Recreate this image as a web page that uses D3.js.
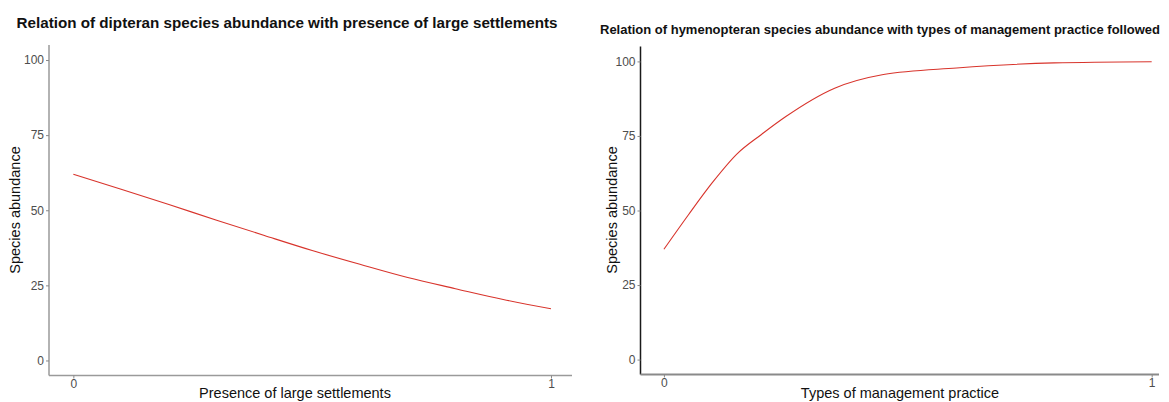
<!DOCTYPE html>
<html><head><meta charset="utf-8">
<script src="https://cdn.jsdelivr.net/npm/d3@7"></script>
<style>body{margin:0;background:#fff}svg{display:block;font-family:"Liberation Sans",Arial,sans-serif}</style>
</head><body><svg id="c" width="1169" height="402"></svg>
<script>
// Data
const leftTitle = "Relation of dipteran species abundance with presence of large settlements";
const rightTitle = "Relation of hymenopteran species abundance with types of management practice followed";
const leftXLabel = "Presence of large settlements";
const rightXLabel = "Types of management practice";
const yLabel = "Species abundance";
const yTicks = [0, 25, 50, 75, 100];
const xTicks = [0, 1];
const leftX = [0, 0.1, 0.2, 0.3, 0.4, 0.5, 0.6, 0.7, 0.8, 0.9, 1];
const leftY = [62.0, 57.0, 51.9, 46.7, 41.6, 36.6, 32.0, 27.6, 23.9, 20.3, 17.2];
const rightX = [0, 0.05, 0.1, 0.15, 0.2, 0.25, 0.35, 0.45, 0.6, 0.8, 1];
const rightY = [37.0, 48.5, 59.5, 69.0, 75.5, 81.5, 91.0, 95.6, 97.8, 99.5, 99.9];

const svg = d3.select("#c");
const FF = "Liberation Sans, Arial, sans-serif";

function panel(o) {
  const x = d3.scaleLinear().domain(o.xDom).range(o.xRange);
  const y = d3.scaleLinear().domain([-5, 105]).range([o.yBottom, o.yTop]);
  const g = svg.append("g");
  g.append("line").attr("x1", o.xRange[0]).attr("x2", o.xRange[0]).attr("y1", o.yTop).attr("y2", o.yBottom)
    .attr("stroke", o.yAxisColor).attr("stroke-width", o.yAxisW);
  g.append("line").attr("x1", o.xRange[0]).attr("x2", o.xRange[1]).attr("y1", o.yBottom).attr("y2", o.yBottom)
    .attr("stroke", o.xAxisColor).attr("stroke-width", o.xAxisW);
  const ya = g.append("g").attr("transform", `translate(${o.xRange[0]},0)`)
    .call(d3.axisLeft(y).tickValues(yTicks).tickSize(3).tickPadding(2))
    .attr("font-family", FF).attr("font-size", 12);
  ya.select(".domain").remove();
  ya.selectAll("line").attr("stroke", "#888");
  ya.selectAll("text").attr("fill", "#4d4d4d");
  const xa = g.append("g").attr("transform", `translate(0,${o.yBottom})`)
    .call(d3.axisBottom(x).tickValues(xTicks).tickFormat(d3.format("d")).tickSize(3).tickPadding(1))
    .attr("font-family", FF).attr("font-size", 12);
  xa.select(".domain").remove();
  xa.selectAll("line").attr("stroke", "#888");
  xa.selectAll("text").attr("fill", "#4d4d4d");
  const line = d3.line().x(d => x(d[0])).y(d => y(d[1])).curve(d3.curveMonotoneX);
  g.append("path").datum(o.xs.map((v, i) => [v, o.ys[i]])).attr("d", line)
    .attr("fill", "none").attr("stroke", "#d8342c").attr("stroke-width", 1.1);
  g.append("text").attr("x", o.titleX).attr("y", o.titleY).attr("text-anchor", "middle")
    .attr("font-weight", "bold").attr("font-size", o.titleSize).attr("fill", "#111")
    .attr("textLength", o.titleLen).attr("lengthAdjust", "spacingAndGlyphs").text(o.title);
  g.append("text").attr("x", o.xLabX).attr("y", o.xLabY).attr("text-anchor", "middle")
    .attr("font-size", 14.5).attr("fill", "#111").text(o.xLabel);
  g.append("text").attr("transform", `translate(${o.yLabX},${o.yLabY}) rotate(-90)`).attr("text-anchor", "middle")
    .attr("font-size", 14.5).attr("fill", "#111").text(yLabel);
}

panel({xDom: [-0.051, 1.044], xRange: [49, 572], yTop: 45, yBottom: 375.5,
  yAxisColor: "#808080", yAxisW: 1.2, xAxisColor: "#9a9a9a", xAxisW: 1.5,
  xs: leftX, ys: leftY, title: leftTitle, titleX: 287, titleY: 28, titleSize: 15, titleLen: 541,
  xLabel: leftXLabel, xLabX: 295, xLabY: 398, yLabX: 20, yLabY: 210});

panel({xDom: [-0.048, 1.015], xRange: [640.5, 1159], yTop: 46.5, yBottom: 374.5,
  yAxisColor: "#1a1a1a", yAxisW: 1.5, xAxisColor: "#8a8a8a", xAxisW: 2,
  xs: rightX, ys: rightY, title: rightTitle, titleX: 880, titleY: 34, titleSize: 13, titleLen: 560,
  xLabel: rightXLabel, xLabX: 900, xLabY: 398, yLabX: 617, yLabY: 210});
</script></body></html>
